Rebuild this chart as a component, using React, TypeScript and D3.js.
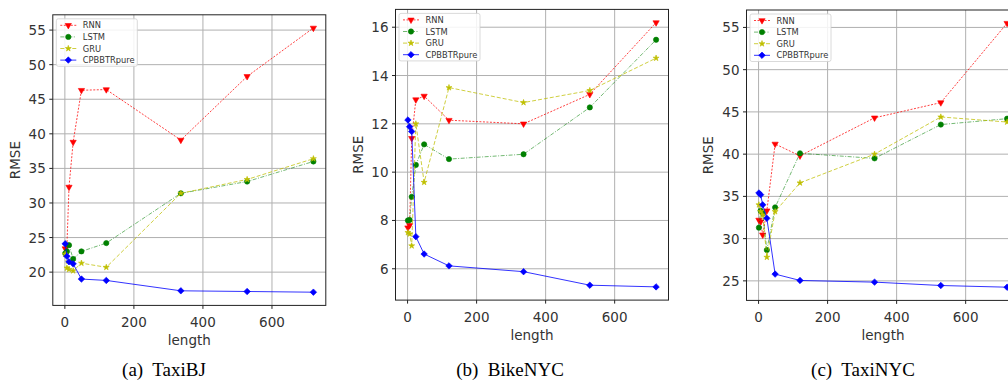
import React from 'react';
import * as d3 from 'd3';

// sequence lengths (shared by all three datasets)
const lengths = [1, 6, 12, 24, 48, 120, 336, 528, 720];
const xTicks = [0, 200, 400, 600];

// TaxiBJ
const bjRNN = [23.4, 23.9, 32.3, 38.8, 46.3, 46.4, 39.1, 48.3, 55.3];
const bjLSTM = [22.7, 23.0, 23.9, 21.9, 23.0, 24.2, 31.4, 33.1, 36.0];
const bjGRU = [22.6, 20.6, 20.4, 20.2, 21.3, 20.7, 31.4, 33.4, 36.4];
const bjCPBBTR = [24.1, 22.3, 21.5, 21.2, 19.0, 18.8, 17.3, 17.2, 17.1];
const bjTicks = [20, 25, 30, 35, 40, 45, 50, 55];

// BikeNYC
const bikeRNN = [7.7, 7.8, 11.4, 13.0, 13.15, 12.15, 12.0, 13.22, 16.19];
const bikeLSTM = [8.0, 8.02, 8.98, 10.3, 11.15, 10.54, 10.74, 12.68, 15.48];
const bikeGRU = [7.5, 7.44, 6.95, 12.0, 9.58, 13.5, 12.88, 13.38, 14.72];
const bikeCPBBTR = [12.16, 11.88, 11.68, 7.33, 6.61, 6.12, 5.88, 5.32, 5.25];
const bikeTicks = [6, 8, 10, 12, 14, 16];

// TaxiNYC
const nycRNN = [32.2, 32.0, 30.45, 33.3, 41.2, 39.8, 44.3, 46.1, 55.5];
const nycLSTM = [31.3, 33.3, 33.0, 28.65, 33.7, 40.1, 39.5, 43.5, 44.2];
const nycGRU = [34.0, 33.2, 32.8, 27.8, 33.2, 36.6, 40.0, 44.4, 43.8];
const nycCPBBTR = [35.4, 35.2, 34.0, 32.4, 25.8, 25.05, 24.85, 24.45, 24.25];
const nycTicks = [25, 30, 35, 40, 45, 50, 55];

const seriesNames = ['RNN', 'LSTM', 'GRU', 'CPBBTRpure'];
const captions = ['(a)\u00a0 TaxiBJ', '(b)\u00a0 BikeNYC', '(c)\u00a0 TaxiNYC'];

// series styles: colour, dash, marker
const styles = [
  { color: '#ff0000', dash: '2,1.5', marker: 'tri', opacity: 0.75 },
  { color: '#008000', dash: '4,1.5,1,1.5', marker: 'circle', opacity: 0.55 },
  { color: '#bfbf00', dash: '4,2', marker: 'star', opacity: 0.75 },
  { color: '#0000ff', dash: null, marker: 'diamond', opacity: 0.8 },
];

const panels = [
  { series: [bjRNN, bjLSTM, bjGRU, bjCPBBTR], yTicks: bjTicks, box: { l: 52.8, t: 14.8, r: 325.8, b: 305.4 }, ylabX: 15, capX: 164 },
  { series: [bikeRNN, bikeLSTM, bikeGRU, bikeCPBBTR], yTicks: bikeTicks, box: { l: 395.5, t: 9.4, r: 668.5, b: 300.1 }, ylabX: 358, capX: 510 },
  { series: [nycRNN, nycLSTM, nycGRU, nycCPBBTR], yTicks: nycTicks, box: { l: 746.5, t: 10, r: 1019.5, b: 300.4 }, ylabX: 708, capX: 863 },
];

const font = '"DejaVu Sans", sans-serif';

const markerPath = (kind: string) => {
  if (kind === 'tri') return d3.symbol(d3.symbolTriangle, 17)()!;
  if (kind === 'circle') return d3.symbol(d3.symbolCircle, 22)()!;
  if (kind === 'star') return d3.symbol(d3.symbolStar, 11)()!;
  return d3.symbol(d3.symbolSquare, 21)()!;
};
const markerRot = (kind: string) => (kind === 'tri' ? 180 : kind === 'diamond' ? 45 : 0);

const Marker = ({ kind, color, x, y }: { kind: string; color: string; x: number; y: number }) => (
  <path d={markerPath(kind)} transform={`translate(${x},${y}) rotate(${markerRot(kind)})`} fill={color} stroke={color} strokeWidth={0.6} />
);

const padExtent = (vals: number[]) => {
  const [lo, hi] = d3.extent(vals) as [number, number];
  const m = (hi - lo) * 0.05;
  return [lo - m, hi + m];
};

const Panel = ({ p }: { p: typeof panels[number] }) => {
  const { l, t, r, b } = p.box;
  const x = d3.scaleLinear().domain(padExtent(lengths)).range([l, r]);
  const y = d3.scaleLinear().domain(padExtent(p.series.flat())).range([b, t]);
  const line = d3.line<number>().x((_, i) => x(lengths[i])).y(d => y(d));
  const clipId = `clip${Math.round(l)}`;
  const lx = l + 3.5;
  const ly = t + 4;
  return (
    <g>
      <clipPath id={clipId}>
        <rect x={l} y={t} width={r - l} height={b - t} />
      </clipPath>
      {/* grid */}
      {xTicks.map(v => (
        <line key={'gx' + v} x1={x(v)} x2={x(v)} y1={t} y2={b} stroke="#b0b0b0" strokeWidth={1} />
      ))}
      {p.yTicks.map(v => (
        <line key={'gy' + v} x1={l} x2={r} y1={y(v)} y2={y(v)} stroke="#b0b0b0" strokeWidth={1} />
      ))}
      {/* series */}
      <g clipPath={`url(#${clipId})`}>
        {p.series.map((vals, si) => (
          <g key={si}>
            <path d={line(vals)!} fill="none" stroke={styles[si].color} strokeWidth={1} strokeOpacity={styles[si].opacity} strokeDasharray={styles[si].dash ?? undefined} />
            {vals.map((v, i) => (
              <Marker key={i} kind={styles[si].marker} color={styles[si].color} x={x(lengths[i])} y={y(v)} />
            ))}
          </g>
        ))}
      </g>
      {/* frame */}
      <rect x={l} y={t} width={r - l} height={b - t} fill="none" stroke="#222" strokeWidth={1} />
      {/* ticks */}
      {xTicks.map(v => (
        <g key={'tx' + v}>
          <line x1={x(v)} x2={x(v)} y1={b} y2={b + 3.5} stroke="#222" />
          <text x={x(v)} y={b + 16.5} textAnchor="middle" dominantBaseline="central" fontSize={13.5} fill="#333" fontFamily={font}>{v}</text>
        </g>
      ))}
      {p.yTicks.map(v => (
        <g key={'ty' + v}>
          <line x1={l - 3.5} x2={l} y1={y(v)} y2={y(v)} stroke="#222" />
          <text x={l - 7} y={y(v)} textAnchor="end" dominantBaseline="central" fontSize={13.5} fill="#333" fontFamily={font}>{v}</text>
        </g>
      ))}
      <text x={(l + r) / 2} y={b + 35} textAnchor="middle" dominantBaseline="central" fontSize={13.5} fill="#333" fontFamily={font}>length</text>
      <text transform={`translate(${p.ylabX},${(t + b) / 2}) rotate(-90)`} textAnchor="middle" dominantBaseline="central" fontSize={13.5} fill="#333" fontFamily={font}>RMSE</text>
      {/* legend */}
      <rect x={lx} y={ly} width={81} height={47.5} rx={2} fill="#fff" fillOpacity={0.85} stroke="#d0d0d0" strokeWidth={0.8} />
      {seriesNames.map((name, si) => {
        const yy = ly + 6.5 + si * 11.6;
        return (
          <g key={name}>
            <line x1={lx + 4} x2={lx + 20} y1={yy} y2={yy} stroke={styles[si].color} strokeWidth={1} strokeOpacity={styles[si].opacity} strokeDasharray={styles[si].dash ?? undefined} />
            <Marker kind={styles[si].marker} color={styles[si].color} x={lx + 12} y={yy} />
            <text x={lx + 26.5} y={yy} dominantBaseline="central" fontSize={8.3} fill="#333" fontFamily={font}>{name}</text>
          </g>
        );
      })}
    </g>
  );
};

export default function App() {
  return (
    <svg width={1008} height={386} style={{ position: 'absolute', left: 0, top: 0, background: '#fff' }}>
      {panels.map((p, i) => (
        <g key={i}>
          <Panel p={p} />
          <text x={p.capX} y={376} textAnchor="middle" fontSize={19} fontFamily='"Liberation Serif", "Times New Roman", serif' fill="#000">{captions[i]}</text>
        </g>
      ))}
    </svg>
  );
}
